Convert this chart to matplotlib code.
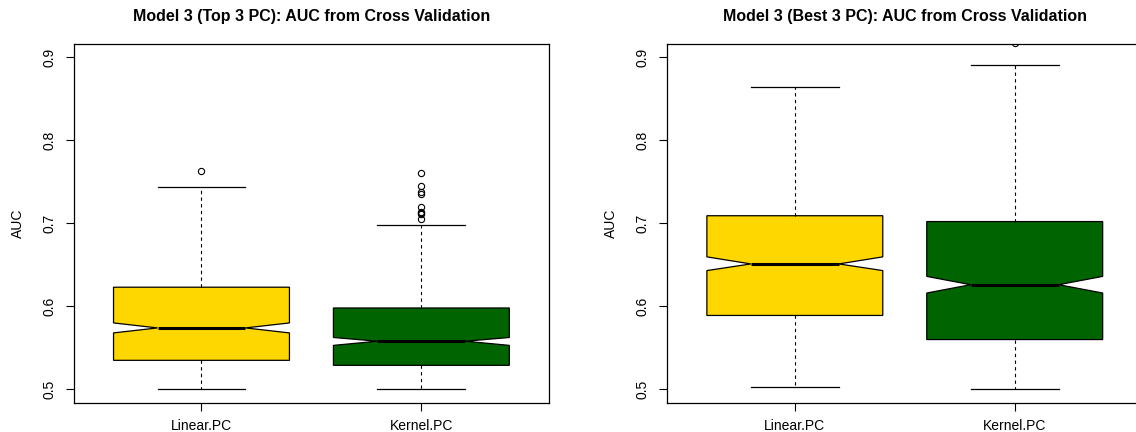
import matplotlib
matplotlib.use("Agg")
import matplotlib.pyplot as plt

plt.rcParams['font.family'] = ['Liberation Sans', 'DejaVu Sans']

groups = ["Linear.PC", "Kernel.PC"]
box_colors = ["#FFD700", "#006400"]
yticks = [0.5, 0.6, 0.7, 0.8, 0.9]

# summary statistics of the cross-validated AUC (Linear.PC, Kernel.PC)
top_q1 = [0.535, 0.529]
top_med = [0.574, 0.558]
top_q3 = [0.623, 0.598]
top_lo = [0.500, 0.500]
top_hi = [0.743, 0.698]
top_cilo = [0.568, 0.553]
top_cihi = [0.580, 0.5625]
top_out = [[0.763],
           [0.760, 0.745, 0.737, 0.735, 0.720, 0.714, 0.712, 0.711, 0.705]]

best_q1 = [0.589, 0.560]
best_med = [0.651, 0.626]
best_q3 = [0.709, 0.702]
best_lo = [0.503, 0.500]
best_hi = [0.864, 0.890]
best_cilo = [0.643, 0.616]
best_cihi = [0.6595, 0.636]
best_out = [[], [0.917]]


def make_stats(q1, med, q3, lo, hi, cilo, cihi, out):
    stats = []
    for i in range(len(groups)):
        stats.append(dict(q1=q1[i], med=med[i], q3=q3[i], whislo=lo[i],
                          whishi=hi[i], cilo=cilo[i], cihi=cihi[i],
                          fliers=out[i], label=groups[i]))
    return stats


def draw(ax, stats, title):
    bp = ax.bxp(stats, positions=[1, 2], widths=0.8, shownotches=True,
                patch_artist=True,
                boxprops=dict(edgecolor='black', linewidth=0.9),
                medianprops=dict(color='black', linewidth=2.2),
                whiskerprops=dict(color='black', linewidth=0.8,
                                  linestyle=(0, (3, 3))),
                capprops=dict(color='black', linewidth=0.9),
                flierprops=dict(marker='o', markerfacecolor='none',
                                markeredgecolor='black', markersize=4.5,
                                markeredgewidth=0.8))
    for patch, c in zip(bp['boxes'], box_colors):
        patch.set_facecolor(c)
    ax.set_xlim(0.42, 2.58)
    ax.set_ylim(0.484, 0.916)
    ax.set_yticks(yticks)
    ax.set_yticklabels([str(v) for v in yticks])
    ax.tick_params(axis='y', labelrotation=90, length=5.8, width=0.8,
                   labelsize=10, pad=7)
    ax.tick_params(axis='x', length=5.8, width=0.8, labelsize=10, pad=6)
    for lab in ax.get_yticklabels():
        lab.set_va('center')
    for s in ax.spines.values():
        s.set_linewidth(0.9)
    ax.set_ylabel("AUC", fontsize=10)
    ax.yaxis.set_label_coords(-0.103, 0.5)
    ax.text(0.5, 1.064, title, transform=ax.transAxes, ha='center',
            va='baseline', fontsize=11.5, fontweight='bold')


fig = plt.figure(figsize=(11.36, 4.32), dpi=100)
ax1 = fig.add_axes([0.0651, 0.0678, 0.4181, 0.831])
ax2 = fig.add_axes([0.5874, 0.0678, 0.4181, 0.831])

draw(ax1, make_stats(top_q1, top_med, top_q3, top_lo, top_hi,
                     top_cilo, top_cihi, top_out),
     "Model 3 (Top 3 PC): AUC from Cross Validation")
draw(ax2, make_stats(best_q1, best_med, best_q3, best_lo, best_hi,
                     best_cilo, best_cihi, best_out),
     "Model 3 (Best 3 PC): AUC from Cross Validation")

fig.savefig("out.png", dpi=100)
